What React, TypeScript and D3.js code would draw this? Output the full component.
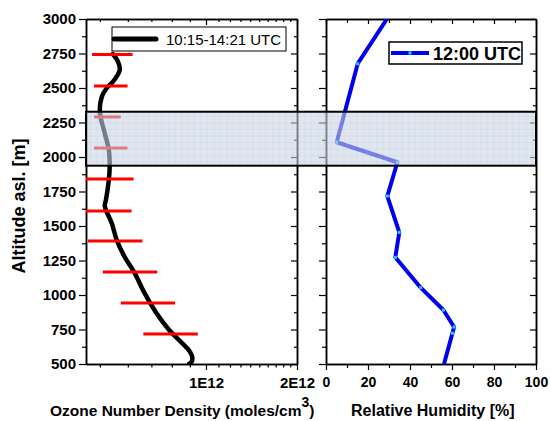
import React, { useEffect, useRef } from 'react';
import * as d3 from 'd3';

const W = 550;
const H = 421;

// ozone profile, altitude [m] and number density [1E12 molec/cm3]
const ozoneAlt = [2746, 2690, 2630, 2544, 2500, 2435, 2319, 2174, 2051, 1928, 1833, 1688, 1650, 1616, 1522, 1399, 1275, 1160, 1015, 870, 747, 652, 590, 545, 515, 500];
const ozoneVal = [0.544, 0.563, 0.569, 0.544, 0.523, 0.506, 0.5, 0.516, 0.53, 0.533, 0.53, 0.52, 0.516, 0.52, 0.54, 0.558, 0.588, 0.627, 0.669, 0.723, 0.786, 0.855, 0.9, 0.915, 0.91, 0.895];

// horizontal error bars of the ozone profile
const errAlt = [2743, 2515, 2290, 2065, 1841, 1609, 1391, 1167, 942, 718];
const errLo = [0.475, 0.481, 0.481, 0.481, 0.45, 0.44, 0.4625, 0.51, 0.573, 0.664];
const errHi = [0.619, 0.599, 0.573, 0.599, 0.623, 0.615, 0.66, 0.727, 0.817, 0.948];

// radiosonde relative humidity
const rhAlt = [3000, 2676, 2107, 1962, 1717, 1454, 1273, 1053, 891, 768, 723, 500];
const rhVal = [29, 15.1, 5.1, 34, 29.2, 34.9, 33, 45.1, 55.9, 61, 60.2, 56.2];

// shaded layer (altitude range)
const layer = [1937, 2328];

const altMajor = [500, 750, 1000, 1250, 1500, 1750, 2000, 2250, 2500, 2750, 3000];
const altMinor = [625, 875, 1125, 1375, 1625, 1875, 2125, 2375, 2625, 2875];
const ozMajor = [1, 2];
const ozMinor = [0.5, 0.6, 0.7, 0.8, 0.9, 1.1, 1.2, 1.3, 1.4, 1.5, 1.6, 1.7, 1.8, 1.9];
const rhMajor = [0, 20, 40, 60, 80, 100];
const rhMinor = [10, 30, 50, 70, 90];

const FONT = "'Liberation Sans', Arial, Helvetica, sans-serif";

function styleAxis(g, fontSize = 15) {
  g.attr('font-family', FONT).attr('font-size', fontSize).attr('font-weight', 'bold');
  g.select('.domain').attr('stroke', '#000').attr('stroke-width', 1.5);
  g.selectAll('.tick line').attr('stroke', '#000').attr('stroke-width', 1.2);
  g.selectAll('.tick text').attr('fill', '#000');
}

function draw(svg) {
  const y = d3.scaleLinear().domain([500, 3000]).range([364, 19]);
  const xO = d3.scaleLog().domain([0.4566, 1, 2]).range([86, 206, 297]);
  const xR = d3.scaleLinear().domain([0, 100]).range([326, 536]);

  const defs = svg.append('defs');
  defs.append('clipPath').attr('id', 'clipL')
    .append('rect').attr('x', 86).attr('y', 19).attr('width', 211).attr('height', 345);
  defs.append('clipPath').attr('id', 'clipR')
    .append('rect').attr('x', 326).attr('y', 19).attr('width', 210).attr('height', 345);
  const pat = defs.append('pattern').attr('id', 'grid')
    .attr('width', 6.5).attr('height', 6.5).attr('patternUnits', 'userSpaceOnUse');
  pat.append('rect').attr('width', 6.5).attr('height', 6.5).attr('fill', '#cad5e6');
  pat.append('path').attr('d', 'M6.5 0V6.5M0 6.5H6.5')
    .attr('stroke', '#a7b8d3').attr('stroke-width', 0.8);

  svg.append('rect').attr('width', W).attr('height', H).attr('fill', '#fff');

  // axes of both panels
  const noLabel = () => '';
  const addY = (x, size, values, labels) => {
    const a = d3.axisLeft(y).tickValues(values).tickSize(size).tickSizeOuter(0).tickPadding(3)
      .tickFormat(labels ? d3.format('d') : noLabel);
    const g = svg.append('g').attr('transform', `translate(${x},0)`).call(a);
    styleAxis(g);
  };
  addY(86, 4, altMinor, false);
  addY(86, 7, altMajor, true);
  addY(297, 3, altMinor, false);
  addY(297, 6, altMajor, false);
  addY(326, 4, altMinor, false);
  addY(326, 7, altMajor, false);
  addY(536, 3, altMinor, false);
  addY(536, 6, altMajor, false);

  const addX = (scale, yPos, values, size, labels, fmt, fs = 15) => {
    const a = d3.axisBottom(scale).tickValues(values)
      .tickSize(size).tickSizeOuter(0).tickPadding(7)
      .tickFormat(labels ? fmt : noLabel);
    const g = svg.append('g').attr('transform', `translate(0,${yPos})`).call(a);
    styleAxis(g, fs);
  };
  addX(xO, 364, ozMinor, 3.5, false, null);
  addX(xO, 364, ozMajor, 6, true, (d) => `${d}E12`);
  addX(xO, 19, ozMinor, 3, false, null);
  addX(xO, 19, ozMajor, 6, false, null);
  addX(xR, 364, rhMinor, 4, false, null);
  addX(xR, 364, rhMajor, 6, true, d3.format('d'), 14);
  addX(xR, 19, rhMinor, 4, false, null);
  addX(xR, 19, rhMajor, 5, false, null);

  // ozone curve with error bars
  const ozone = ozoneAlt.map((a, i) => [ozoneVal[i], a]);
  const lineO = d3.line().x((d) => xO(d[0])).y((d) => y(d[1])).curve(d3.curveCatmullRom);
  const gl = svg.append('g').attr('clip-path', 'url(#clipL)');
  gl.append('path').datum(ozone).attr('d', lineO)
    .attr('fill', 'none').attr('stroke', '#000').attr('stroke-width', 4.5).attr('stroke-linecap', 'round');
  gl.selectAll('.err').data(errAlt).enter().append('line')
    .attr('class', 'err')
    .attr('x1', (d, i) => xO(errLo[i]))
    .attr('x2', (d, i) => xO(errHi[i]))
    .attr('y1', (d) => y(d)).attr('y2', (d) => y(d))
    .attr('stroke', '#ff0000').attr('stroke-width', 3);

  // humidity line
  const rh = rhAlt.map((a, i) => [rhVal[i], a]);
  const lineR = d3.line().x((d) => xR(d[0])).y((d) => y(d[1]));
  const gr = svg.append('g').attr('clip-path', 'url(#clipR)');
  gr.append('path').datum(rh).attr('d', lineR)
    .attr('fill', 'none').attr('stroke', '#0000ee').attr('stroke-width', 4).attr('stroke-linejoin', 'round');
  gr.selectAll('.mk').data(rh.slice(1, -1)).enter().append('rect')
    .attr('class', 'mk')
    .attr('x', (d) => xR(d[0]) - 1.5).attr('y', (d) => y(d[1]) - 1.5)
    .attr('width', 3).attr('height', 3).attr('fill', '#22d3ff');

  // shaded layer across both panels
  svg.append('rect')
    .attr('x', 86).attr('y', y(layer[1]))
    .attr('width', 536 - 86).attr('height', y(layer[0]) - y(layer[1]))
    .attr('fill', 'url(#grid)').attr('opacity', 0.6);
  svg.append('rect')
    .attr('x', 86).attr('y', y(layer[1]))
    .attr('width', 536 - 86).attr('height', y(layer[0]) - y(layer[1]))
    .attr('fill', 'none').attr('stroke', '#000').attr('stroke-width', 2);

  // legends
  svg.append('rect').attr('x', 112).attr('y', 27).attr('width', 174).attr('height', 24)
    .attr('fill', '#fff').attr('stroke', '#000').attr('stroke-width', 1);
  svg.append('line').attr('x1', 114).attr('x2', 156).attr('y1', 39).attr('y2', 39)
    .attr('stroke', '#000').attr('stroke-width', 5).attr('stroke-linecap', 'round');
  svg.append('text').attr('x', 166).attr('y', 45).attr('font-family', FONT).attr('font-size', 15)
    .text('10:15-14:21 UTC');

  svg.append('rect').attr('x', 389).attr('y', 42).attr('width', 133).attr('height', 22)
    .attr('fill', '#fff').attr('stroke', '#000').attr('stroke-width', 1.5);
  svg.append('line').attr('x1', 391).attr('x2', 429).attr('y1', 53).attr('y2', 53)
    .attr('stroke', '#0000ee').attr('stroke-width', 4);
  svg.append('rect').attr('x', 408.5).attr('y', 51.5).attr('width', 3).attr('height', 3).attr('fill', '#22d3ff');
  svg.append('text').attr('x', 433).attr('y', 60).attr('font-family', FONT).attr('font-size', 18)
    .attr('font-weight', 'bold').text('12:00 UTC');

  // axis titles
  svg.append('text').attr('transform', 'translate(25,206) rotate(-90)')
    .attr('text-anchor', 'middle').attr('font-family', FONT).attr('font-size', 18)
    .attr('font-weight', 'bold').text('Altitude asl. [m]');

  const t = svg.append('text').attr('x', 50).attr('y', 416).attr('font-family', FONT)
    .attr('font-size', 15.5).attr('font-weight', 'bold');
  t.append('tspan').text('Ozone Number Density (moles/cm');
  t.append('tspan').attr('font-size', 14).attr('dy', -9).text('3');
  t.append('tspan').attr('dy', 9).text(')');

  svg.append('text').attr('x', 351).attr('y', 416).attr('font-family', FONT)
    .attr('font-size', 16).attr('font-weight', 'bold').text('Relative Humidity [%]');
}

export default function App() {
  const ref = useRef(null);

  useEffect(() => {
    const svg = d3.select(ref.current);
    svg.selectAll('*').remove();
    draw(svg);
  }, []);

  return (
    <svg ref={ref} width={W} height={H}
      style={{ position: 'absolute', left: 0, top: 0, background: '#fff' }} />
  );
}
